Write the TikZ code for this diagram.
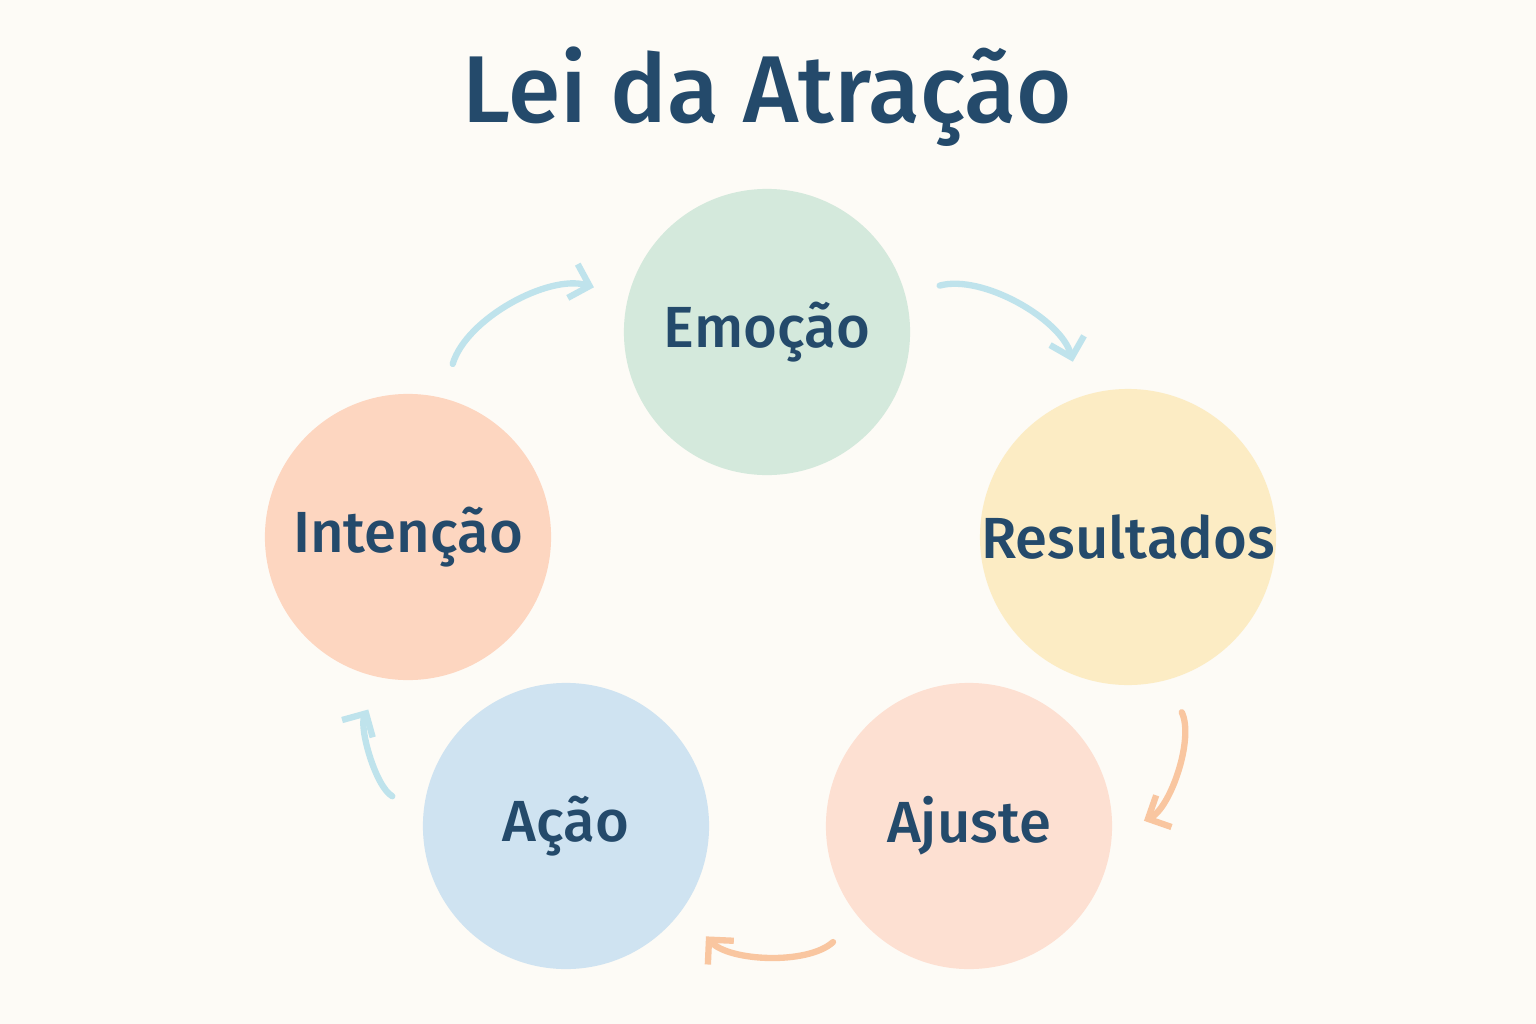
\documentclass[tikz,border=0pt]{standalone}
\usepackage{fontspec}
\setmainfont{Fira Sans}[BoldFont={Fira Sans Medium}]
\usetikzlibrary{arrows.meta}
\definecolor{bgcol}{HTML}{FDFBF6}
\definecolor{ink}{HTML}{244A6B}
\definecolor{emocol}{HTML}{D4E9DC}
\definecolor{rescol}{HTML}{FCECC4}
\definecolor{ajucol}{HTML}{FDE0D2}
\definecolor{acacol}{HTML}{CFE3F1}
\definecolor{intcol}{HTML}{FDD6C0}
\definecolor{bluearr}{HTML}{BFE3EC}
\definecolor{orangearr}{HTML}{F9C6A0}
\tikzset{
  stage/.style={circle, minimum size=2.86cm, inner sep=0pt, text=ink, font=\fontsize{16.5}{20}\selectfont\bfseries},
  flow/.style={line width=1.8pt, line cap=round, -{Straight Barb[length=5pt,width=10pt,line width=1.8pt]}, shorten <=0.35cm, shorten >=0.35cm, bend left=45}
}
\begin{document}
\begin{tikzpicture}[x=0.01cm, y=-0.01cm]

    %Background
    \fill[bgcol] (0,0) rectangle (1536,1024);
    \useasboundingbox (0,0) rectangle (1536,1024);

    %Title
    \node[text=ink, font=\fontsize{27}{32}\selectfont\bfseries] (title) at (767,97) {Lei da Atração};

    %Circles
    \node[stage, fill=emocol] (emo) at (767,332) {Emoção};
    \node[stage, fill=rescol] (res) at (1128,537) {Resultados};
    \node[stage, fill=ajucol] (aju) at (969,826) {Ajuste};
    \node[stage, fill=acacol] (aca) at (566,826) {Ação};
    \node[stage, fill=intcol] (int) at (408,537) {Intenção};

    %Arrows
    \draw[flow, bluearr] (emo.15) to (res.108);
    \draw[flow, orangearr] (res.-75) to (aju.-4);
    \draw[flow, orangearr] (aju.220) to (aca.-36);
    \draw[flow, bluearr] (aca.175) to (int.261);
    \draw[flow, bluearr] (int.76) to (emo.166);

\end{tikzpicture}
\end{document}
